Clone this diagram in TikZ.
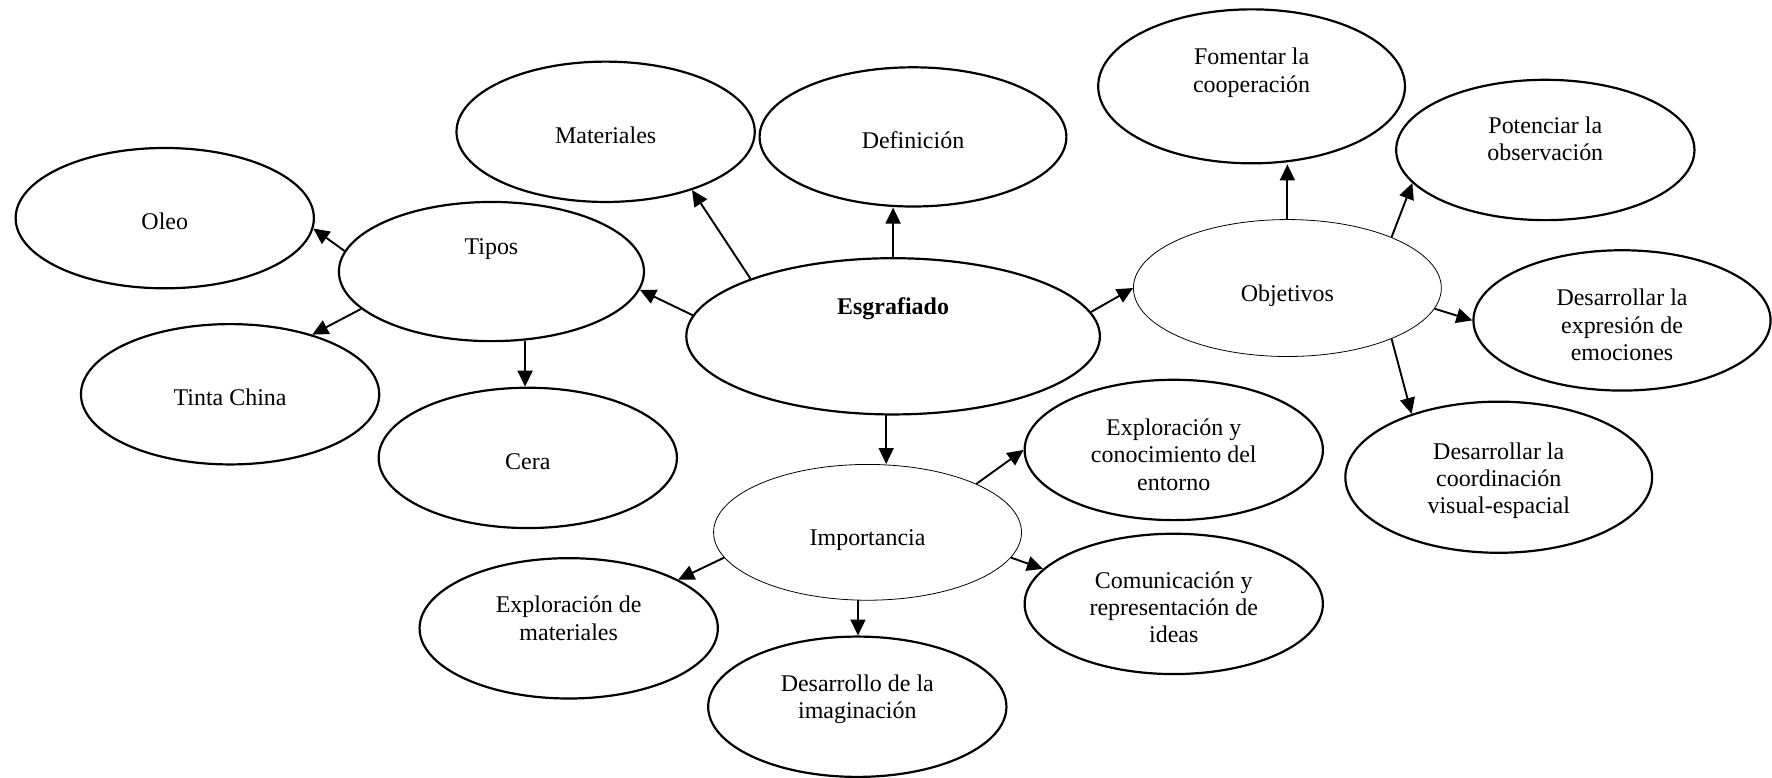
\documentclass[tikz,border=0pt]{standalone}
\usepackage{fontspec}
\setmainfont{Liberation Serif}
\usetikzlibrary{shapes.geometric, arrows.meta}

\begin{document}
\begin{tikzpicture}[
    bubble/.style={draw, ellipse, line width=1.1pt, inner sep=0pt, minimum width=5.25cm, minimum height=2.47cm},
    bubblethin/.style={bubble, line width=0.4pt},
    lbl/.style={align=center, inner sep=0pt, font=\fontsize{12}{13.7}\selectfont},
    arr/.style={-{Triangle[length=8pt, width=7.5pt]}, line width=0.95pt}
]
    % Fix the page size
    \useasboundingbox (0,0) rectangle (31.19,13.69);

    % Draw the central node
    \node[bubble, minimum width=7.28cm, minimum height=2.75cm] (esg) at (15.72,7.77) {};
    \node[lbl] (esg-t) at ([yshift=0.48cm]esg.center) {\textbf{Esgrafiado}};

    % Draw the left branch
    \node[bubble] (mat) at (10.66,11.37) {};
    \node[lbl] (mat-t) at ([yshift=-0.06cm]mat.center) {Materiales};
    \node[bubble, minimum width=5.40cm, minimum height=2.45cm] (def) at (16.07,11.28) {};
    \node[lbl] (def-t) at ([yshift=-0.06cm]def.center) {Definición};
    \node[bubble, minimum width=5.37cm, minimum height=2.45cm] (tipos) at (8.65,8.91) {};
    \node[lbl] (tipos-t) at ([yshift=0.39cm]tipos.center) {Tipos};
    \node[bubble] (oleo) at (2.90,9.85) {};
    \node[lbl] (oleo-t) at ([yshift=-0.06cm]oleo.center) {Oleo};
    \node[bubble] (tinta) at (4.05,6.75) {};
    \node[lbl] (tinta-t) at ([yshift=-0.06cm]tinta.center) {Tinta China};
    \node[bubble] (cera) at (9.29,5.63) {};
    \node[lbl] (cera-t) at ([yshift=-0.06cm]cera.center) {Cera};

    % Draw the objectives
    \node[bubblethin, minimum width=5.42cm, minimum height=2.41cm] (obj) at (22.66,8.62) {};
    \node[lbl] (obj-t) at ([yshift=-0.14cm]obj.center) {Objetivos};
    \node[bubble, minimum width=5.40cm, minimum height=2.71cm] (fom) at (22.03,12.17) {};
    \node[lbl] (fom-t) at ([yshift=0.24cm]fom.center) {Fomentar la\\cooperación};
    \node[bubble] (pot) at (27.20,11.05) {};
    \node[lbl] (pot-t) at ([yshift=0.20cm]pot.center) {Potenciar la\\observación};
    \node[bubble, minimum width=5.23cm] (expr) at (28.55,8.05) {};
    \node[lbl] (expr-t) at ([yshift=-0.08cm]expr.center) {Desarrollar la\\expresión de\\emociones};
    \node[bubble, minimum width=5.40cm, minimum height=2.66cm] (coord) at (26.38,5.29) {};
    \node[lbl] (coord-t) at ([yshift=-0.06cm]coord.center) {Desarrollar la\\coordinación\\visual-espacial};

    % Draw the importance
    \node[bubblethin, minimum width=5.42cm, minimum height=2.39cm] (imp) at (15.27,4.32) {};
    \node[lbl] (imp-t) at ([yshift=-0.14cm]imp.center) {Importancia};
    \node[bubble] (entorno) at (20.66,5.77) {};
    \node[lbl] (entorno-t) at ([yshift=-0.08cm]entorno.center) {Exploración y\\conocimiento del\\entorno};
    \node[bubble] (ideas) at (20.66,3.06) {};
    \node[lbl] (ideas-t) at ([yshift=-0.06cm]ideas.center) {Comunicación y\\representación de\\ideas};
    \node[bubble] (explmat) at (10.01,2.63) {};
    \node[lbl] (explmat-t) at ([yshift=0.18cm]explmat.center) {Exploración de\\materiales};
    \node[bubble] (imag) at (15.09,1.25) {};
    \node[lbl] (imag-t) at ([yshift=0.13cm]imag.center) {Desarrollo de la\\imaginación};

    % Draw the arrows
    \draw[arr] (esg.158.9) -- (mat.-34.6);
    \draw[arr] (esg.north) -- (esg.north |- def.south);
    \draw[arr] (esg.174.8) -- (tipos.-7.3);
    \draw[arr] (esg.7.1) -- (obj.west);
    \draw[arr] (esg.-95.6) -- (esg.-95.6 |- imp.north);
    \draw[arr] (tipos.172) -- (oleo.-4.4);
    \draw[arr] (tipos.196.2) -- (tinta.36);
    \draw[arr] (tipos.-64.9) -- (tipos.-64.9 |- cera.north);
    \draw[arr] (obj.north) -- (obj.north |- fom.south);
    \draw[arr] (obj.26) -- (pot.194.1);
    \draw[arr] (obj.-8.6) -- (expr.west);
    \draw[arr] (obj.-26.6) -- (coord.144.6);
    \draw[arr] (imp.24) -- (entorno.west);
    \draw[arr] (imp.-10.5) -- (ideas.165.6);
    \draw[arr] (imp.190.8) -- (explmat.24.8);
    \draw[arr] (imp.-98) -- (imp.-98 |- imag.north);
\end{tikzpicture}
\end{document}
